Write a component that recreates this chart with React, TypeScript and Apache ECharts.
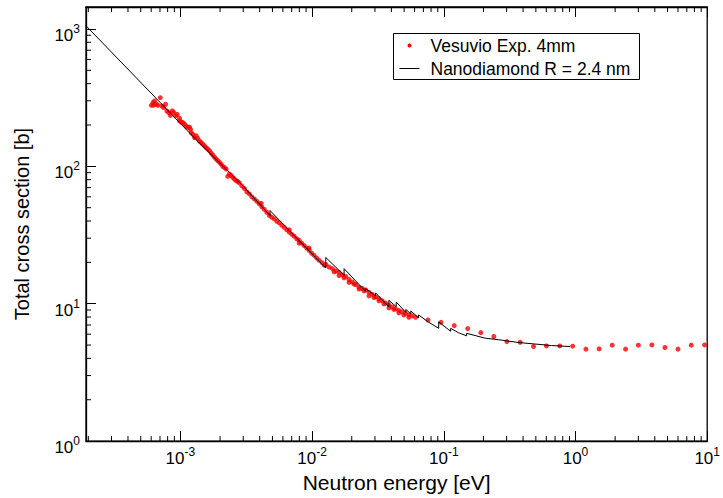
import React, { useEffect, useRef } from "react";
import * as echarts from "echarts";

// Axis ranges
const X_MIN = 1.92e-4;
const X_MAX = 10;
const Y_MIN = 1;
const Y_MAX = 1445;

// Theory curve: Nanodiamond R = 2.4 nm (energy eV, cross section b)
const theoryE = [
  1.92e-4, 1.395e-3, 2.8e-3, 4.79e-3, 4.79e-3, 1.27e-2, 1.27e-2, 1.75e-2, 1.75e-2,
  2.39e-2, 2.54e-2, 2.54e-2, 3.03e-2, 3.03e-2, 3.83e-2, 3.83e-2, 4.35e-2, 4.35e-2,
  5.15e-2, 5.15e-2, 5.62e-2, 5.62e-2, 6.43e-2, 6.43e-2, 7.69e-2, 9.15e-2, 9.15e-2,
  0.1127, 0.1127, 0.1297, 0.149, 0.149, 0.2065, 0.2606, 0.369, 0.659, 0.909,
];
const theorySigma = [
  1055, 147.5, 76.9, 43.9, 47.7, 18.2, 21.7, 16.1, 18.0,
  13.1, 12.4, 12.9, 11.4, 12.0, 9.51, 10.6, 9.51, 10.3,
  8.65, 9.09, 8.44, 8.87, 7.89, 8.29, 7.32, 6.62, 7.38,
  6.3, 6.62, 6.14, 5.84, 6.09, 5.61, 5.47, 5.22, 4.96, 4.88,
];

// Experiment: Vesuvio Exp. 4mm (energy eV)
const expE = [
  6.02e-4, 6.19e-4, 6.37e-4, 6.26e-4, 6.57e-4, 6.75e-4, 7.04e-4, 7.24e-4, 7.46e-4, 7.72e-4,
  7.9e-4, 8.18e-4, 8.38e-4, 8.68e-4, 8.92e-4, 9.19e-4, 9.47e-4, 9.85e-4, 1.015e-3, 1.044e-3,
  1.075e-3, 1.107e-3, 1.139e-3, 1.194e-3, 1.208e-3, 1.243e-3, 1.28e-3, 1.356e-3, 1.396e-3, 1.479e-3,
  1.57e-3, 1.663e-3, 1.761e-3, 1.868e-3, 1.979e-3, 2.096e-3, 2.224e-3, 2.286e-3, 2.355e-3, 2.495e-3,
  2.647e-3, 2.804e-3, 3.06e-3, 3.339e-3, 3.641e-3, 3.974e-3, 4.335e-3, 4.73e-3, 5.161e-3, 5.632e-3,
  6.144e-3, 6.706e-3, 7.311e-3, 7.98e-3, 8.705e-3, 9.499e-3, 1.036e-2, 1.131e-2, 1.271e-2, 1.426e-2,
  1.602e-2, 1.801e-2, 2.021e-2, 2.272e-2, 2.552e-2, 2.864e-2, 3.218e-2, 3.617e-2, 4.058e-2, 4.56e-2,
  5.125e-2, 5.75e-2, 6.1e-2,
  7.98e-3, 1.234e-2, 1.468e-2, 1.748e-2, 2.082e-2, 2.477e-2, 2.949e-2, 3.511e-2, 4.18e-2, 4.975e-2,
  6.706e-3, 9.499e-3, 4.114e-3,
  2.928e-3, 3.196e-3, 3.486e-3, 3.805e-3, 4.15e-3, 4.529e-3, 4.94e-3, 5.391e-3, 5.882e-3, 6.42e-3,
  7.003e-3, 7.64e-3, 8.335e-3, 9.095e-3, 9.922e-3, 1.083e-2, 1.192e-2, 1.346e-2, 1.513e-2, 1.698e-2,
  1.908e-2, 2.145e-2, 2.405e-2, 2.703e-2, 3.039e-2, 3.408e-2, 3.832e-2, 4.305e-2, 4.831e-2, 5.429e-2,
  9.85e-4, 1.173e-3, 1.318e-3, 1.438e-3, 1.523e-3, 1.614e-3, 1.712e-3, 1.814e-3, 1.921e-3, 2.038e-3,
  2.159e-3, 2.426e-3, 2.57e-3, 2.722e-3,
  1.602e-2, 1.908e-2, 2.272e-2, 2.703e-2, 3.218e-2, 3.832e-2, 4.56e-2, 5.429e-2,
  0.0759, 0.0953, 0.12, 0.152, 0.191, 0.24, 0.301, 0.38, 0.48, 0.601, 0.759,
  0.951, 1.2, 1.51, 1.9, 2.4, 3.0, 3.8, 4.78, 6.0, 7.57, 9.55,
];
// Experiment: total cross section (b)
const expSigma = [
  278, 291, 299, 278, 283, 278, 316, 275, 268, 283,
  253, 246, 235, 253, 246, 233, 239, 214, 210, 208,
  203, 196, 192, 186, 176, 171, 162, 160, 153, 145,
  137, 130, 121, 113, 107, 100, 95.6, 84.6, 88.0, 83.2,
  78.6, 75.7, 69.0, 63.0, 57.9, 53.3, 48.6, 43.9, 41.5, 38.8,
  36.0, 33.2, 31.0, 28.9, 26.5, 24.5, 22.5, 20.7, 19.3, 18.0,
  16.9, 15.8, 14.4, 13.2, 12.6, 11.7, 10.9, 10.1, 9.48, 8.94,
  8.51, 8.16, 7.96,
  27.6, 19.1, 17.1, 15.4, 13.9, 12.4, 11.1, 9.97, 9.09, 8.29,
  34.5, 25.4, 53.8,
  72.0, 65.1, 59.9, 55.6, 50.7, 46.3, 42.6, 39.8, 37.2, 34.5,
  32.0, 29.7, 27.6, 25.4, 23.3, 21.5, 19.9, 18.5, 17.3, 16.2,
  15.0, 13.8, 12.9, 12.1, 11.2, 10.5, 9.8, 9.17, 8.72, 8.29,
  224, 193, 167, 149, 141, 133.5, 124.9, 116.8, 110.2, 103.9,
  98.0, 85.8, 80.9, 77.6,
  16.0, 14.3, 12.8, 11.4, 10.5, 9.32, 8.58, 7.96,
  7.61, 7.32, 6.93, 6.59, 6.16, 5.77, 5.3, 5.24, 4.88, 4.93, 4.93,
  4.91, 4.67, 4.69, 4.99, 4.67, 4.99, 5.01, 4.8, 4.67, 4.99, 5.01,
];

// Tick marks
const tickMantissas = [2, 3, 4, 5, 6, 7, 8, 9];
const xDecades = [1e-4, 1e-3, 1e-2, 1e-1, 1];
const yDecades = [1, 10, 100, 1000];

const FONT = "'Liberation Sans', Arial, Helvetica, sans-serif";

function powLabel(v: number): string {
  const l = Math.log10(v);
  const r = Math.round(l);
  if (Math.abs(l - r) > 1e-6) return "";
  return `{b|10}{s|${r}}`;
}

export default function App() {
  const ref = useRef<HTMLDivElement>(null);

  useEffect(() => {
    if (!ref.current) return;
    const chart = echarts.init(ref.current, undefined, { renderer: "svg" });

    const xMinor = xDecades
      .flatMap((d) => tickMantissas.map((m) => m * d))
      .filter((v) => v > X_MIN && v < X_MAX);
    const yMinor = yDecades
      .flatMap((d) => tickMantissas.map((m) => m * d))
      .filter((v) => v > Y_MIN && v < Y_MAX);

    const axisLine = { show: true, lineStyle: { color: "#000", width: 1.3 } };
    const majorTick = { show: true, inside: true, length: 10, lineStyle: { color: "#000", width: 1 } };

    chart.setOption({
      animation: false,
      backgroundColor: "#fff",
      grid: {
        left: 86,
        right: 14,
        top: 7,
        bottom: 55,
        show: true,
        borderColor: "#000",
        borderWidth: 1.3,
        backgroundColor: "transparent",
      },
      xAxis: [
        {
          type: "log",
          min: X_MIN,
          max: X_MAX,
          position: "bottom",
          axisLine,
          axisTick: majorTick,
          splitLine: { show: false },
          axisLabel: {
            margin: 9,
            color: "#000",
            formatter: powLabel,
            rich: {
              b: { fontSize: 17, fontFamily: FONT, color: "#000", lineHeight: 17, verticalAlign: "bottom" },
              s: { fontSize: 12, fontFamily: FONT, color: "#000", lineHeight: 12, padding: [0, 0, 9, 0], verticalAlign: "bottom" },
            },
          },
          name: "Neutron energy [eV]",
          nameLocation: "middle",
          nameGap: 27,
          nameTextStyle: { fontSize: 21, fontFamily: FONT, color: "#000" },
        },
        {
          type: "log",
          min: X_MIN,
          max: X_MAX,
          position: "top",
          axisLine,
          axisTick: majorTick,
          splitLine: { show: false },
          axisLabel: { show: false },
        },
      ],
      yAxis: [
        {
          type: "log",
          min: Y_MIN,
          max: Y_MAX,
          axisLine,
          axisTick: majorTick,
          splitLine: { show: false },
          axisLabel: {
            margin: 6,
            color: "#000",
            padding: [13, 0, 0, 0],
            formatter: powLabel,
            rich: {
              b: { fontSize: 17, fontFamily: FONT, color: "#000", lineHeight: 17, padding: [16, 0, 0, 0], verticalAlign: "bottom" },
              s: { fontSize: 12, fontFamily: FONT, color: "#000", lineHeight: 12, padding: [0, 0, 9, 0], verticalAlign: "bottom" },
            },
          },
          name: "Total cross section [b]",
          nameLocation: "middle",
          nameGap: 54,
          nameTextStyle: { fontSize: 20, fontFamily: FONT, color: "#000" },
        },
      ],
      series: [
        {
          name: "Vesuvio Exp. 4mm",
          type: "scatter",
          xAxisIndex: 0,
          yAxisIndex: 0,
          symbol: "circle",
          symbolSize: 5,
          itemStyle: { color: "#ff0000" },
          data: expE.map((e, i) => [e, expSigma[i]]),
          z: 2,
        },
        {
          name: "Nanodiamond R = 2.4 nm",
          type: "line",
          xAxisIndex: 0,
          yAxisIndex: 0,
          showSymbol: false,
          symbol: "none",
          lineStyle: { color: "#000", width: 1 },
          data: theoryE.map((e, i) => [e, theorySigma[i]]),
          z: 3,
        },
        {
          type: "custom",
          xAxisIndex: 0,
          yAxisIndex: 0,
          silent: true,
          clip: false,
          z: 5,
          data: xMinor.map((v) => [v, 10]),
          renderItem: (params: any, api: any) => {
            const x = api.coord([api.value(0), api.value(1)])[0];
            const cs = params.coordSys;
            const yb = cs.y + cs.height;
            return {
              type: "group",
              children: [
                { type: "line", shape: { x1: x, y1: yb, x2: x, y2: yb - 5 }, style: { stroke: "#000", lineWidth: 1 } },
                { type: "line", shape: { x1: x, y1: cs.y, x2: x, y2: cs.y + 5 }, style: { stroke: "#000", lineWidth: 1 } },
              ],
            };
          },
        },
        {
          type: "custom",
          xAxisIndex: 0,
          yAxisIndex: 0,
          silent: true,
          clip: false,
          z: 5,
          data: yMinor.map((v) => [1e-2, v]),
          renderItem: (params: any, api: any) => {
            const y = api.coord([api.value(0), api.value(1)])[1];
            const cs = params.coordSys;
            return {
              type: "line",
              shape: { x1: cs.x, y1: y, x2: cs.x + 5, y2: y },
              style: { stroke: "#000", lineWidth: 1 },
            };
          },
        },
      ],
      graphic: [
        {
          type: "group",
          left: 393,
          top: 33,
          children: [
            { type: "rect", shape: { x: 0, y: 0, width: 246, height: 46 }, style: { fill: "#fff", stroke: "#000", lineWidth: 1 } },
            { type: "circle", shape: { cx: 16, cy: 12, r: 2 }, style: { fill: "#ff0000" } },
            { type: "line", shape: { x1: 6, y1: 35, x2: 26, y2: 35 }, style: { stroke: "#000", lineWidth: 1 } },
            {
              type: "text",
              x: 37,
              y: 12,
              style: { text: "Vesuvio Exp. 4mm", fontSize: 17.5, fontFamily: FONT, fill: "#000", verticalAlign: "middle", align: "left" },
            },
            {
              type: "text",
              x: 37,
              y: 35,
              style: { text: "Nanodiamond R = 2.4 nm", fontSize: 17.5, fontFamily: FONT, fill: "#000", verticalAlign: "middle", align: "left" },
            },
          ],
        },
      ],
    });

    return () => chart.dispose();
  }, []);

  return (
    <div
      ref={ref}
      style={{ position: "absolute", left: 0, top: 0, width: 723, height: 498 }}
    />
  );
}
